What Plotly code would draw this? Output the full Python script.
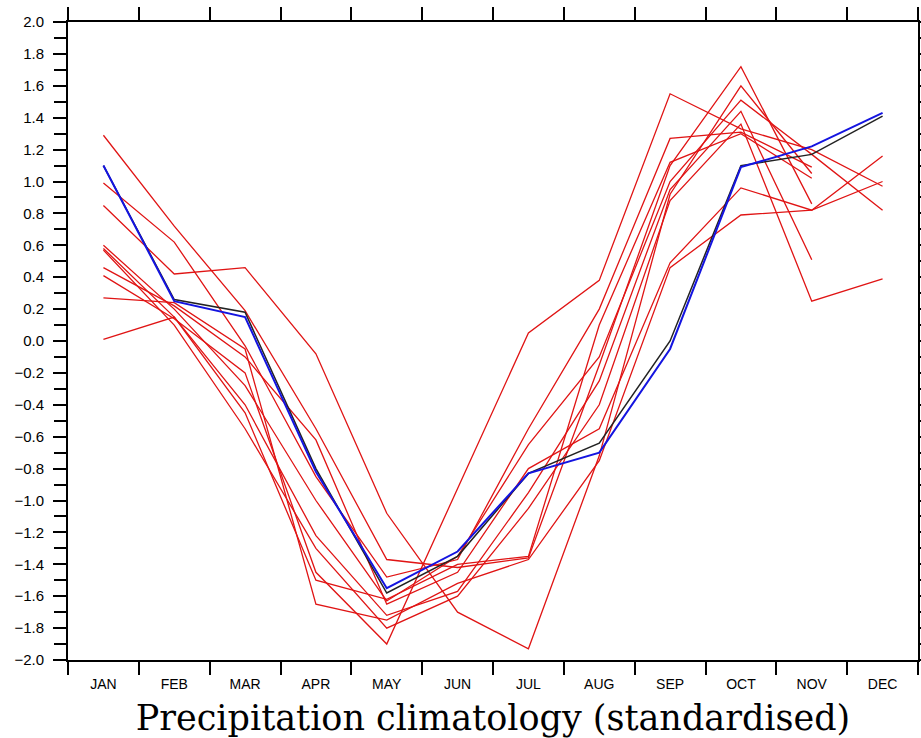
import plotly.graph_objects as go

months = ["JAN", "FEB", "MAR", "APR", "MAY", "JUN", "JUL", "AUG", "SEP", "OCT", "NOV", "DEC"]

nan = None
red_series = [
    [1.29, 0.72, 0.19, -0.55, -1.37, -1.42, -1.36, -0.15, 1.10, 1.72, 0.86, nan],
    [0.99, 0.62, -0.03, -0.85, -1.48, -1.37, -0.55, 0.20, 1.27, 1.31, 1.09, nan],
    [0.85, 0.42, 0.46, -0.08, -1.08, -1.70, -1.93, -0.72, 0.92, 1.60, 1.05, nan],
    [0.60, 0.20, -0.28, -1.00, -1.63, -1.35, -0.65, -0.10, 1.00, 1.51, 1.17, 0.82],
    [0.58, 0.15, -0.40, -1.22, -1.72, -1.57, -0.95, -0.25, 0.95, 1.44, 0.51, nan],
    [0.57, 0.10, -0.55, -1.30, -1.80, -1.60, -1.05, -0.40, 0.88, 1.36, 0.25, 0.39],
    [0.46, 0.22, -0.10, -0.62, -1.65, -1.45, -0.80, -0.55, 0.49, 0.96, 0.82, 1.16],
    [0.41, 0.14, -0.20, -1.45, -1.90, -0.92, 0.05, 0.38, 1.55, 1.33, 1.20, 0.97],
    [0.27, 0.24, -0.05, -1.65, -1.75, -1.52, -1.37, -0.75, 0.46, 0.79, 0.82, 1.00],
    [0.01, 0.15, -0.45, -1.50, -1.62, -1.40, -1.35, 0.10, 1.12, 1.30, 1.02, nan],
]
black_series = [1.10, 0.26, 0.18, -0.80, -1.58, -1.35, -0.83, -0.64, 0.00, 1.10, 1.17, 1.41]
blue_series = [1.10, 0.25, 0.15, -0.82, -1.55, -1.32, -0.83, -0.70, -0.05, 1.09, 1.22, 1.43]

fig = go.Figure()
for s in red_series:
    fig.add_trace(go.Scatter(x=months, y=s, mode="lines",
                             line=dict(color="#e01414", width=1.3),
                             connectgaps=False, showlegend=False))
fig.add_trace(go.Scatter(x=months, y=black_series, mode="lines",
                         line=dict(color="#222222", width=1.5), showlegend=False))
fig.add_trace(go.Scatter(x=months, y=blue_series, mode="lines",
                         line=dict(color="#1414e0", width=2), showlegend=False))

fig.update_layout(
    width=921, height=738,
    margin=dict(l=68, r=3, t=22, b=78),
    plot_bgcolor="white", paper_bgcolor="white",
    font=dict(family="Liberation Sans, Arial, sans-serif", color="black"),
)
fig.update_xaxes(
    type="category", tickson="boundaries", range=[-0.5, 11.5],
    automargin=False,
    showgrid=False, zeroline=False,
    showline=True, linecolor="black", linewidth=2, mirror="allticks",
    ticks="outside", ticklen=13, tickwidth=2, tickcolor="black",
    ticklabelstandoff=10,
    tickfont=dict(size=14, family="Liberation Sans, Arial, sans-serif"),
    title=dict(text="Precipitation climatology (standardised)",
               font=dict(family="DejaVu Serif, serif", size=35), standoff=20),
)
fig.update_yaxes(
    range=[-2.0, 2.0], dtick=0.2, tick0=0, tickformat=".1f",
    automargin=False,
    showgrid=False, zeroline=False,
    showline=True, linecolor="black", linewidth=2, mirror="allticks",
    ticks="outside", ticklen=13, tickwidth=2, tickcolor="black",
    ticklabelstandoff=6,
    tickfont=dict(size=15, family="Liberation Sans, Arial, sans-serif"),
    minor=dict(dtick=0.1, ticks="outside", ticklen=12, tickwidth=2, tickcolor="black", showgrid=False),
)

fig.write_html("out.html")
